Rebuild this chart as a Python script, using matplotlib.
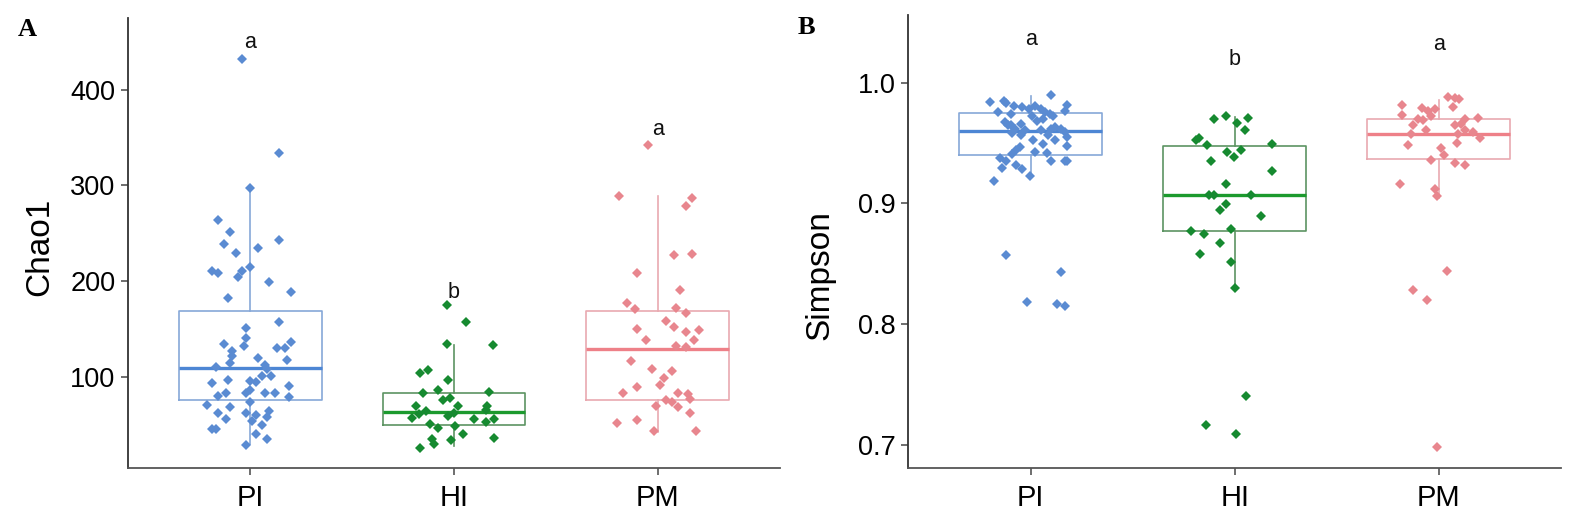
import numpy as np
import matplotlib.pyplot as plt

plt.rcParams["font.family"] = ["Liberation Sans", "DejaVu Sans"]

groups = ["PI", "HI", "PM"]
point_colors = ["#5a8bd2", "#168a30", "#e8868e"]
box_colors = ["#86a8d8", "#5c9462", "#e9a9b0"]
median_colors = ["#4d86d4", "#1c9a2e", "#ee8088"]

# box stats: whislo, q1, median, q3, whishi
chao1_box_pi = [30, 76, 109, 169, 297]
chao1_box_hi = [28, 49, 62.7, 83.4, 133.5]
chao1_box_pm = [42, 75.6, 128.4, 169, 288.8]

simpson_box_pi = [0.921, 0.9398, 0.9602, 0.9747, 0.989]
simpson_box_hi = [0.8295, 0.877, 0.9066, 0.9478, 0.9715]
simpson_box_pm = [0.9047, 0.9368, 0.9572, 0.970, 0.9855]

# jittered samples (value, horizontal jitter in category units)
chao1_pi = [432, 334, 297, 263.6, 251.5, 238.7, 235, 243, 229, 210.8,
            208.7, 210.8, 204, 215, 199, 188.7, 181.8, 157, 150.7, 140,
            131.8, 134.6, 126.6, 121.4, 130, 130, 136, 119, 117, 110,
            111.8, 107.6, 114.5, 100.7, 100.7, 95.5, 94.5, 96, 93, 90,
            83.4, 86, 82.4, 82.4, 82.4, 79.3, 79, 70.7, 68, 74,
            62, 60, 62, 56, 63.8, 57.6, 54, 49, 45.5, 45.5,
            40, 35, 29]
chao1_pi_jit = [-0.04, 0.14, 0.0, -0.16, -0.10, -0.13, 0.04, 0.14, -0.07, -0.19,
                -0.16, -0.04, -0.06, 0.0, 0.09, 0.20, -0.11, 0.14, -0.02, -0.02,
                -0.03, -0.13, -0.09, -0.09, 0.13, 0.17, 0.20, 0.04, 0.18, -0.17,
                0.07, 0.08, -0.10, 0.10, 0.06, 0.0, 0.03, -0.11, -0.19, 0.19,
                -0.12, 0.0, -0.02, 0.07, 0.12, -0.16, 0.19, -0.21, -0.10, 0.0,
                -0.02, 0.03, -0.16, -0.12, 0.09, 0.08, 0.01, 0.06, -0.19, -0.17,
                0.03, 0.08, -0.02]

chao1_hi = [174.8, 156.9, 134.5, 132.7, 104.1, 106.5, 96.2, 83.4, 85.8, 84.4,
            75.8, 77.2, 69.6, 68.9, 69.6, 65.5, 64.4, 59.2, 56.5, 55.8,
            52.3, 55.8, 50.6, 46.1, 48.9, 40.3, 33.4, 36.1, 35.1, 29.6,
            25.8, 62.5, 61.0]
chao1_hi_jit = [-0.035, 0.06, -0.035, 0.19, -0.166, -0.13, -0.03, -0.15, -0.08, 0.17,
                -0.055, -0.02, -0.186, 0.02, 0.16, 0.155, -0.137, -0.03, -0.205, 0.10,
                0.155, 0.194, -0.12, -0.08, 0.007, 0.043, -0.014, 0.194, -0.11, -0.10,
                -0.166, 0.0, -0.17]

chao1_pm = [342, 289.4, 286.7, 278.4, 226.7, 228, 208.7, 191, 177.3, 170.4,
            172, 167, 157.7, 151.4, 149.7, 146.3, 148.3, 138, 138.7, 132.5,
            131, 116.3, 107.7, 106, 99, 91.4, 89.3, 82.4, 83.4, 81.8,
            76.6, 75.6, 74, 69.7, 68, 62, 51.3, 54.9, 42.8, 42.8]
chao1_pm_jit = [-0.05, -0.19, 0.17, 0.14, 0.08, 0.17, -0.10, 0.11, -0.15, -0.11,
                0.09, 0.14, 0.04, 0.08, -0.10, 0.14, 0.20, 0.18, -0.06, 0.09,
                0.14, -0.13, -0.03, 0.07, 0.03, 0.01, -0.10, -0.17, 0.10, 0.15,
                0.16, 0.04, 0.07, -0.01, 0.10, 0.16, -0.20, -0.10, -0.02, 0.19]

simpson_pi = [0.9842, 0.985, 0.9831, 0.9896, 0.9817, 0.9809, 0.9796, 0.9782, 0.9804, 0.9782,
              0.9755, 0.9755, 0.9741, 0.9722, 0.9741, 0.9768, 0.9722, 0.9695, 0.9673, 0.9646,
              0.9619, 0.966, 0.9605, 0.9564, 0.9605, 0.9619, 0.9619, 0.957, 0.9592, 0.9551,
              0.9523, 0.9488, 0.9523, 0.9477, 0.9469, 0.9442, 0.9407, 0.9429, 0.9415, 0.9374,
              0.9347, 0.9352, 0.9347, 0.9352, 0.9292, 0.9319, 0.9284, 0.923, 0.9189, 0.8571,
              0.8429, 0.8182, 0.8163, 0.8149, 0.965, 0.968, 0.958, 0.963]
simpson_pi_jit = [-0.20, -0.13, -0.12, 0.10, 0.18, -0.08, -0.045, -0.01, 0.02, 0.05,
                  0.07, -0.16, -0.095, 0.11, 0.094, 0.17, 0.004, 0.06, -0.126, -0.095,
                  -0.078, -0.05, -0.03, -0.05, 0.05, 0.10, 0.15, 0.086, 0.17, 0.18,
                  0.01, 0.06, 0.12, 0.18, -0.053, -0.07, -0.094, 0.02, 0.078, -0.15,
                  -0.12, 0.10, 0.17, 0.18, -0.14, -0.07, -0.045, -0.004, -0.18, -0.12,
                  0.146, -0.016, 0.13, 0.17, -0.11, 0.03, -0.09, 0.12]

simpson_hi = [0.9696, 0.972, 0.9666, 0.9706, 0.9611, 0.9524, 0.9543, 0.9483, 0.9489, 0.9429,
              0.9443, 0.9383, 0.9353, 0.9266, 0.9157, 0.9067, 0.9067, 0.9067, 0.8994, 0.8948,
              0.8899, 0.877, 0.8749, 0.879, 0.8673, 0.8578, 0.851, 0.8295, 0.7408, 0.7163,
              0.709]
simpson_hi_jit = [-0.10, -0.044, 0.011, 0.065, 0.049, -0.188, -0.176, -0.136, 0.18, -0.04,
                  0.031, -0.002, -0.115, 0.18, -0.043, -0.127, -0.103, 0.08, -0.045, -0.074,
                  0.126, -0.214, -0.149, -0.018, -0.074, -0.172, -0.021, 0.003, 0.057, -0.142,
                  0.008]

simpson_pm = [0.9878, 0.9872, 0.9864, 0.9796, 0.9815, 0.9733, 0.9788, 0.9768, 0.9782, 0.970,
              0.9687, 0.9722, 0.9646, 0.9578, 0.9605, 0.970, 0.9709, 0.9646, 0.966, 0.9578,
              0.9605, 0.9592, 0.9537, 0.9482, 0.9496, 0.9456, 0.940, 0.9355, 0.9333, 0.9314,
              0.9162, 0.9115, 0.9061, 0.8443, 0.828, 0.8196, 0.6985]
simpson_pm_jit = [0.044, 0.077, 0.10, 0.07, -0.18, -0.18, -0.083, -0.054, -0.02, -0.10,
                  -0.078, -0.04, -0.127, -0.136, -0.062, 0.126, 0.19, 0.077, 0.11, 0.093,
                  0.126, 0.167, 0.20, -0.15, 0.09, 0.01, 0.025, -0.04, 0.08, 0.13,
                  -0.19, -0.02, -0.01, 0.04, -0.126, -0.057, -0.01]

# significance letters: (letter, y position)
chao1_letters = [("a", 449), ("b", 187.5), ("a", 358)]
simpson_letters = [("a", 1.0353), ("b", 1.0188), ("a", 1.0312)]

W, H = 1592, 529
fig = plt.figure(figsize=(W / 100, H / 100), dpi=100)
axA = fig.add_axes([128 / W, 1 - 467.7 / H, 652 / W, (467.7 - 18) / H])
axB = fig.add_axes([908.3 / W, 1 - 467.7 / H, 653 / W, (467.7 - 15) / H])


def draw_panel(ax, boxes, samples, jitters, letters, ylim, yticks, yticklabels, ylabel):
    pos = np.arange(1, len(groups) + 1)
    for i, (b, vals, jit) in enumerate(zip(boxes, samples, jitters)):
        stats = [dict(whislo=b[0], q1=b[1], med=b[2], q3=b[3], whishi=b[4], fliers=[])]
        ax.bxp(stats, positions=[pos[i]], widths=0.7, showfliers=False,
               boxprops=dict(color=box_colors[i], linewidth=1.2),
               whiskerprops=dict(color=box_colors[i], linewidth=1.2),
               capprops=dict(linewidth=0),
               medianprops=dict(color=median_colors[i], linewidth=2.4),
               manage_ticks=False, zorder=2)
        ax.plot(pos[i] + np.asarray(jit), vals, "D", ms=4.8, mew=0,
                color=point_colors[i], zorder=3)
        ax.text(pos[i], letters[i][1], letters[i][0], ha="center", va="center",
                fontsize=15.5, color="#111111")
    ax.set_xlim(0.4, 3.6)
    ax.set_ylim(*ylim)
    ax.set_xticks(pos)
    ax.set_xticklabels(groups, fontsize=21)
    ax.set_yticks(yticks)
    ax.set_yticklabels(yticklabels, fontsize=19.5)
    ax.set_ylabel(ylabel, fontsize=24)
    for s in ("top", "right"):
        ax.spines[s].set_visible(False)
    for s in ("left", "bottom"):
        ax.spines[s].set_color("#555555")
        ax.spines[s].set_linewidth(1.3)
    ax.spines["left"].set_color("#333333")
    ax.tick_params(axis="both", colors="#555555", length=5, width=1.2, labelcolor="black")
    ax.tick_params(axis="x", pad=7)
    ax.tick_params(axis="y", pad=4)


draw_panel(axA, [chao1_box_pi, chao1_box_hi, chao1_box_pm],
           [chao1_pi, chao1_hi, chao1_pm],
           [chao1_pi_jit, chao1_hi_jit, chao1_pm_jit],
           chao1_letters, (4.8, 475), [100, 200, 300, 400],
           ["100", "200", "300", "400"], "Chao1")
axA.yaxis.set_label_coords(-0.112, 0.49)

draw_panel(axB, [simpson_box_pi, simpson_box_hi, simpson_box_pm],
           [simpson_pi, simpson_hi, simpson_pm],
           [simpson_pi_jit, simpson_hi_jit, simpson_pm_jit],
           simpson_letters, (0.681, 1.056), [0.7, 0.8, 0.9, 1.0],
           ["0.7", "0.8", "0.9", "1.0"], "Simpson")
axB.yaxis.set_label_coords(-0.112, 0.426)

fig.text(27 / W, 1 - 30 / H, "A", fontsize=19, fontweight="bold",
         family="Liberation Serif", ha="center", va="center")
fig.text(806.7 / W, 1 - 28 / H, "B", fontsize=19, fontweight="bold",
         family="Liberation Serif", ha="center", va="center")

fig.savefig("out.png", dpi=100)
